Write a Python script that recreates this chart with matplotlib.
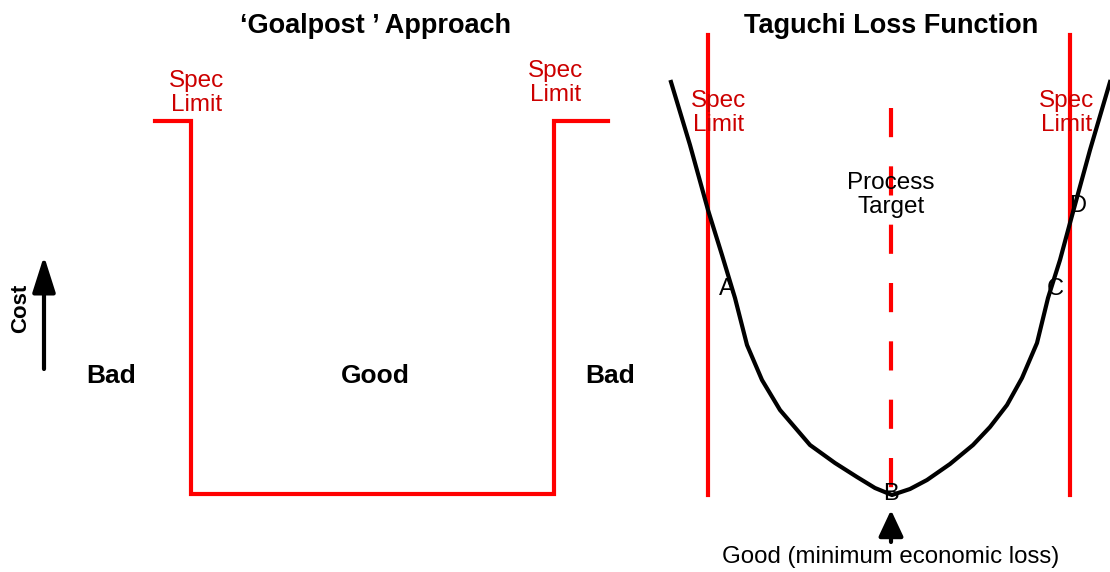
import matplotlib
matplotlib.use("Agg")
import matplotlib.pyplot as plt

plt.rcParams['font.family'] = ['Liberation Sans', 'DejaVu Sans']

RED = '#ff0000'
LABEL_RED = '#cc0000'

# goalpost step line (diagram units = pixels)
goal_x = [155, 191, 191, 554, 554, 608]
goal_y = [121, 121, 494, 494, 121, 121]

# taguchi loss curve
loss_x = [671, 690, 708, 722, 735, 747, 762, 780, 810, 835, 857, 875, 892,
          910, 927, 950, 973, 990, 1007, 1022, 1037, 1048, 1060, 1070, 1090, 1110]
loss_y = [82, 145, 210, 255, 298, 345, 380, 410, 445, 463, 477, 488, 495,
          489, 480, 464, 445, 427, 405, 378, 343, 298, 260, 223, 150, 82]

spec_left = 708
spec_right = 1070
target = 891
spec_top = 35
spec_bottom = 495
target_top = 108

point_labels = ['A', 'B', 'C', 'D']
point_x = [727, 891, 1055, 1078]
point_y = [289, 494, 289, 206]

fig = plt.figure(figsize=(11.1, 5.72), dpi=100)
ax = fig.add_axes([0, 0, 1, 1])
ax.set_xlim(0, 1110)
ax.set_ylim(572, 0)
ax.axis('off')

LS = 1.1

# left panel
ax.plot(goal_x, goal_y, color=RED, lw=3, solid_joinstyle='miter')
ax.text(375, 26, '\u2018Goalpost \u2019 Approach', ha='center', va='center',
        fontsize=19.5, fontweight='bold')
ax.text(197, 93, 'Spec\nLimit', ha='center', va='center', fontsize=17.5,
        color=LABEL_RED, linespacing=LS)
ax.text(556, 83, 'Spec\nLimit', ha='center', va='center', fontsize=17.5,
        color=LABEL_RED, linespacing=LS)
for x, lbl in [(111, 'Bad'), (375, 'Good'), (610, 'Bad')]:
    ax.text(x, 376, lbl, ha='center', va='center', fontsize=19, fontweight='bold')
ax.annotate('', xy=(44, 256), xytext=(44, 369),
            arrowprops=dict(arrowstyle='-|>,head_length=2.2,head_width=0.7',
                            color='black', lw=3, shrinkA=0, shrinkB=0))
ax.text(21, 308, 'Cost', rotation=90, ha='center', va='center', fontsize=16,
        fontweight='bold')

# right panel
ax.text(891, 26, 'Taguchi Loss Function', ha='center', va='center',
        fontsize=19.5, fontweight='bold')
ax.plot([spec_left, spec_left], [spec_top, spec_bottom], color=RED, lw=3)
ax.plot([spec_right, spec_right], [spec_top, spec_bottom], color=RED, lw=3)
ax.plot([target, target], [target_top, spec_bottom], color=RED, lw=3,
        dashes=(7, 7))
ax.plot(loss_x, loss_y, color='black', lw=3)
ax.text(719, 113, 'Spec\nLimit', ha='center', va='center', fontsize=17.5,
        color=LABEL_RED, linespacing=LS)
ax.text(1067, 113, 'Spec\nLimit', ha='center', va='center', fontsize=17.5,
        color=LABEL_RED, linespacing=LS)
ax.text(891, 195, 'Process\nTarget', ha='center', va='center', fontsize=17.5,
        linespacing=LS)
for lbl, x, y in zip(point_labels, point_x, point_y):
    ax.text(x, y, lbl, ha='center', va='center', fontsize=17)
ax.annotate('', xy=(891, 510), xytext=(891, 542),
            arrowprops=dict(arrowstyle='-|>,head_length=1.6,head_width=0.75',
                            color='black', lw=3, shrinkA=0, shrinkB=0))
ax.text(891, 557, 'Good (minimum economic loss)', ha='center', va='center',
        fontsize=17.3)

fig.savefig('out.png', dpi=100)
